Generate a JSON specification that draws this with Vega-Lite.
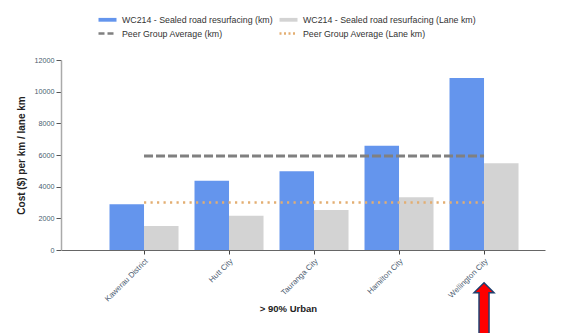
{
  "$schema": "https://vega.github.io/schema/vega-lite/v6.json",
  "width": 484,
  "height": 190,
  "autosize": {"type": "none"},
  "padding": {"left": 61, "top": 60, "right": 17, "bottom": 83},
  "background": "white",
  "config": {
    "font": "Liberation Sans",
    "view": {"stroke": null},
    "axis": {"grid": false}
  },
  "datasets": {
    "bars": [
      {"council": "Kawerau District", "series": "WC214 - Sealed road resurfacing (km)", "cost": 2890},
      {"council": "Kawerau District", "series": "WC214 - Sealed road resurfacing (Lane km)", "cost": 1520},
      {"council": "Hutt City", "series": "WC214 - Sealed road resurfacing (km)", "cost": 4380},
      {"council": "Hutt City", "series": "WC214 - Sealed road resurfacing (Lane km)", "cost": 2170},
      {"council": "Tauranga City", "series": "WC214 - Sealed road resurfacing (km)", "cost": 4970},
      {"council": "Tauranga City", "series": "WC214 - Sealed road resurfacing (Lane km)", "cost": 2530},
      {"council": "Hamilton City", "series": "WC214 - Sealed road resurfacing (km)", "cost": 6590},
      {"council": "Hamilton City", "series": "WC214 - Sealed road resurfacing (Lane km)", "cost": 3330},
      {"council": "Wellington City", "series": "WC214 - Sealed road resurfacing (km)", "cost": 10870},
      {"council": "Wellington City", "series": "WC214 - Sealed road resurfacing (Lane km)", "cost": 5480}
    ],
    "avgKm": [
      {"council": "Kawerau District", "cost": 5940},
      {"council": "Hutt City", "cost": 5940},
      {"council": "Tauranga City", "cost": 5940},
      {"council": "Hamilton City", "cost": 5940},
      {"council": "Wellington City", "cost": 5940}
    ],
    "avgLane": [
      {"council": "Kawerau District", "cost": 3000},
      {"council": "Hutt City", "cost": 3000},
      {"council": "Tauranga City", "cost": 3000},
      {"council": "Hamilton City", "cost": 3000},
      {"council": "Wellington City", "cost": 3000}
    ],
    "arrow": [
      {"council": "Wellington City", "cost": -2700}
    ]
  },
  "encoding": {
    "x": {
      "field": "council",
      "type": "nominal",
      "sort": null,
      "scale": {"paddingInner": 0.188, "paddingOuter": 0.441, "align": 0.647},
      "axis": {
        "title": "> 90% Urban",
        "titleFontWeight": "bold",
        "titleFontSize": 9.5,
        "titleColor": "#222",
        "titleX": 227,
        "titleY": 58,
        "titleBaseline": "middle",
        "labelAngle": -45,
        "labelFontSize": 7.8,
        "labelColor": "#4b5b70",
        "labelPadding": 3,
        "tickSize": 4,
        "tickColor": "#444",
        "domainColor": "#666",
        "domainWidth": 1
      }
    },
    "y": {
      "field": "cost",
      "type": "quantitative",
      "scale": {"domain": [0, 12000], "nice": false},
      "axis": {
        "title": "Cost ($) per km / lane km",
        "titleFontWeight": "bold",
        "titleFontSize": 10,
        "titleColor": "#222",
        "titlePadding": 8,
        "values": [0, 2000, 4000, 6000, 8000, 10000, 12000],
        "format": "d",
        "labelOverlap": false,
        "labelFontSize": 7.2,
        "labelColor": "#4b5b70",
        "labelPadding": 2,
        "tickSize": 5,
        "tickColor": "#555",
        "domainColor": "#aaa",
        "domainWidth": 1.5
      }
    }
  },
  "layer": [
    {
      "data": {"name": "bars"},
      "mark": {"type": "bar"},
      "encoding": {
        "xOffset": {"field": "series", "type": "nominal", "sort": null},
        "color": {
          "field": "series",
          "type": "nominal",
          "scale": {
            "domain": [
              "WC214 - Sealed road resurfacing (km)",
              "WC214 - Sealed road resurfacing (Lane km)",
              "Peer Group Average (km)",
              "Peer Group Average (Lane km)"
            ],
            "range": ["#6495ED", "#D3D3D3", "#808080", "#E3AE72"]
          },
          "legend": {
            "title": null,
            "orient": "none",
            "legendX": 40,
            "legendY": -47,
            "padding": 0,
            "columns": 2,
            "direction": "horizontal",
            "columnPadding": 1,
            "rowPadding": 0,
            "symbolSize": 100,
            "labelOffset": 8,
            "labelFontSize": 8.8,
            "labelColor": "#333",
            "labelLimit": 300,
            "encode": {
              "symbols": {
                "update": {
                  "shape": [
                    {"test": "indexof(datum.value, 'Peer') >= 0", "value": "M-1.8,0H1.8"},
                    {"value": "M-1.8,-0.38H1.8V0.38H-1.8Z"}
                  ],
                  "fill": [
                    {"test": "indexof(datum.value, 'Peer') >= 0", "value": "transparent"},
                    {"scale": "color", "field": "value"}
                  ],
                  "stroke": [
                    {"test": "indexof(datum.value, 'Peer') >= 0", "scale": "color", "field": "value"},
                    {"value": "transparent"}
                  ],
                  "strokeDash": [
                    {"test": "datum.value === 'Peer Group Average (km)'", "value": [6, 3]},
                    {"test": "datum.value === 'Peer Group Average (Lane km)'", "value": [2, 2.5]},
                    {"value": [1, 0]}
                  ],
                  "strokeWidth": {"value": 2.5},
                  "opacity": {"value": 1}
                }
              }
            }
          }
        }
      }
    },
    {
      "data": {"name": "avgKm"},
      "mark": {"type": "line", "color": "#808080", "strokeWidth": 3, "strokeDash": [9, 3]}
    },
    {
      "data": {"name": "avgLane"},
      "mark": {"type": "line", "color": "#E3AE72", "strokeWidth": 2.5, "strokeDash": [2.2, 4.3]}
    },
    {
      "data": {"name": "arrow"},
      "mark": {
        "type": "point",
        "shape": "M0,-1L1,0L0.5,0L0.5,5L-0.5,5L-0.5,0L-1,0Z",
        "size": 400,
        "filled": true,
        "fill": "#FF0000",
        "stroke": "#1F3F6F",
        "strokeWidth": 1.5,
        "opacity": 1
      }
    }
  ]
}
